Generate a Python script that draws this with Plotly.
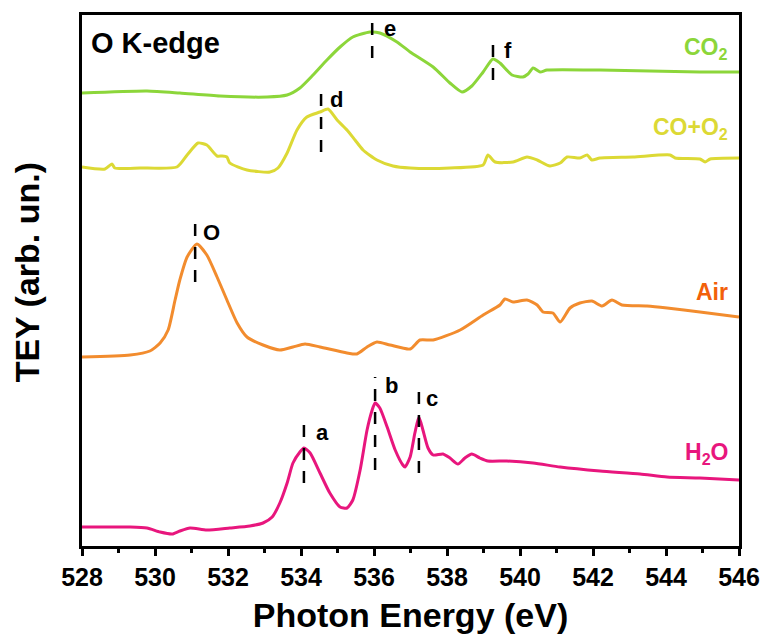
import plotly.graph_objects as go

# ---- data (photon energy in eV, TEY intensity in arbitrary, offset units) ----
co2_x = [528.0, 529.78, 530.68, 531.78, 533.07, 533.62, 533.97, 534.33, 534.71, 535.07, 535.42,
         535.89, 536.16, 536.63, 536.99, 537.62, 538.08, 538.41, 538.68, 538.99, 539.26, 539.45,
         539.78, 540.08, 540.22, 540.36, 540.55, 540.74, 542.19, 543.56, 544.93, 546.0]
co2_y = [453, 455, 453, 450, 449, 451, 458, 471, 486, 499, 509,
         514, 513, 504, 494, 479, 463, 454, 460, 474, 487, 483,
         471, 469, 472, 478, 474, 476, 476, 475, 474, 474]

coo2_x = [528.0, 528.63, 528.82, 528.9, 529.59, 530.6, 530.88, 531.18, 531.42, 531.7, 531.84,
          531.97, 532.05, 532.52, 533.15, 533.37, 533.62, 533.89, 534.16, 534.52, 534.74, 534.99,
          535.26, 535.48, 535.7, 536.08, 536.52, 536.99, 538.08, 538.99, 539.12, 539.32, 539.81,
          540.19, 540.47, 540.82, 541.1, 541.29, 541.64, 541.84, 541.97, 542.19, 543.1, 544.11,
          544.25, 544.93, 545.07, 545.21, 546.0]
coo2_y = [379, 377, 382, 378, 378, 379, 391, 403, 401, 390, 390,
          389, 383, 376, 374, 378, 393, 416, 429, 434, 437, 426,
          416, 406, 396, 386, 380, 378, 378, 381, 391, 384, 384,
          389, 386, 380, 383, 389, 388, 391, 386, 388, 389, 391,
          388, 387, 384, 387, 388]

air_x = [528.0, 529.32, 529.86, 530.14, 530.36, 530.55, 530.68, 530.88, 531.15, 531.42, 531.7,
         531.97, 532.25, 532.52, 532.96, 533.42, 533.78, 534.11, 534.52, 535.26, 535.53, 535.81,
         536.08, 536.44, 536.99, 537.26, 537.62, 538.36, 538.99, 539.45, 539.59, 539.81, 540.19,
         540.47, 540.63, 540.9, 541.1, 541.37, 541.64, 541.97, 542.25, 542.52, 542.79, 543.48,
         544.03, 544.93, 546.0]
air_y = [189, 191, 195, 203, 216, 246, 266, 289, 302, 291, 269,
         246, 223, 209, 201, 196, 199, 202, 199, 193, 192, 199,
         204, 201, 197, 206, 206, 216, 231, 241, 247, 244, 246,
         241, 234, 233, 224, 238, 243, 245, 240, 246, 241, 240,
         238, 234, 229]

h2o_x = [528.0, 529.32, 529.78, 530.14, 530.47, 530.68, 530.96, 531.42, 532.05, 532.6, 532.96,
         533.21, 533.42, 533.62, 533.78, 533.97, 534.08, 534.25, 534.52, 534.79, 535.07, 535.26,
         535.42, 535.62, 535.81, 535.95, 536.03, 536.16, 536.36, 536.58, 536.79, 536.85, 536.99,
         537.12, 537.23, 537.34, 537.48, 537.62, 537.89, 538.08, 538.3, 538.49, 538.68, 538.9,
         539.12, 539.64, 540.36, 541.1, 542.19, 543.29, 544.03, 544.93, 546.0]
h2o_y = [19, 19, 18, 14, 12, 15, 18, 16, 18, 20, 23,
         29, 43, 63, 83, 94, 98, 93, 73, 53, 39, 38,
         46, 76, 116, 136, 143, 138, 119, 96, 81, 79, 89,
         113, 129, 116, 98, 91, 92, 88, 82, 88, 92, 88,
         85, 85, 83, 79, 75, 72, 69, 68, 66]

series_names = ["CO<sub>2</sub>", "CO+O<sub>2</sub>", "Air", "H<sub>2</sub>O"]
series_label_y = [498, 418, 254, 93]

# peak markers: energy, dashed-line top and bottom, label, label position
peak_x = [535.95, 539.26, 534.55, 531.1, 534.08, 536.03, 537.23]
peak_top = [526, 504, 461, 331, 129, 169, 164]
peak_bot = [488, 466, 394, 264, 63, 76, 73]
peak_lab = ["e", "f", "d", "O", "a", "b", "c"]
peak_lab_x = [536.44, 539.67, 534.96, 531.56, 534.58, 536.49, 537.59]
peak_lab_y = [518, 496, 447, 314, 114, 161, 148]

x_ticks = [528, 530, 532, 534, 536, 538, 540, 542, 544, 546]

line_colors = ["#8CD63A", "#DCD935", "#F28C2E", "#E8167D"]
label_colors = ["#8CD63A", "#DCD935", "#F2600A", "#E8167D"]

FONT = "Liberation Sans, Arial, sans-serif"

fig = go.Figure()
for xs, ys, c in zip([co2_x, coo2_x, air_x, h2o_x], [co2_y, coo2_y, air_y, h2o_y], line_colors):
    fig.add_trace(go.Scatter(x=xs, y=ys, mode="lines", line=dict(color=c, width=3, shape="spline", smoothing=0.6),
                             showlegend=False, hoverinfo="skip"))

for px, t, b in zip(peak_x, peak_top, peak_bot):
    fig.add_trace(go.Scatter(x=[px, px], y=[b, t], mode="lines",
                             line=dict(color="black", width=2.5, dash="12px,11px"),
                             showlegend=False, hoverinfo="skip"))

for lab, lx, ly in zip(peak_lab, peak_lab_x, peak_lab_y):
    fig.add_annotation(x=lx, y=ly, text=lab, showarrow=False,
                       font=dict(family=FONT, size=22, color="black", weight="bold"))

for name, ly, c in zip(series_names, series_label_y, label_colors):
    fig.add_annotation(x=545.75, y=ly, text=name, showarrow=False, xanchor="right",
                       font=dict(family=FONT, size=23, color=c, weight="bold"))

fig.add_annotation(x=528.2, y=503, text="O K-edge", showarrow=False, xanchor="left",
                   font=dict(family=FONT, size=29, color="black", weight="bold"))

fig.add_annotation(xref="paper", yref="paper", x=-0.084, y=0.515, text="TEY (arb. un.)",
                   textangle=-90, showarrow=False, xanchor="center", yanchor="middle",
                   font=dict(family=FONT, size=34, color="black", weight="bold"))

fig.update_layout(
    width=762, height=644,
    margin=dict(l=82, r=23, t=15, b=98, autoexpand=False),
    plot_bgcolor="white", paper_bgcolor="white",
    xaxis=dict(range=[528, 546], tickvals=x_ticks, ticks="outside", ticklen=7, tickwidth=2.5,
               tickcolor="black", showline=True, linewidth=3, linecolor="black", mirror=True,
               showgrid=False, zeroline=False, automargin=False,
               minor=dict(dtick=1, ticks="outside", ticklen=4, tickwidth=2.5, tickcolor="black"),
               tickfont=dict(family=FONT, size=25, color="black", weight="bold"),
               title=dict(text="Photon Energy (eV)", standoff=14,
                          font=dict(family=FONT, size=34, color="black", weight="bold"))),
    yaxis=dict(range=[0, 531], showticklabels=False, ticks="", showline=True, linewidth=3,
               linecolor="black", mirror=True, showgrid=False, zeroline=False, automargin=False),
)

fig.write_html("out.html")
